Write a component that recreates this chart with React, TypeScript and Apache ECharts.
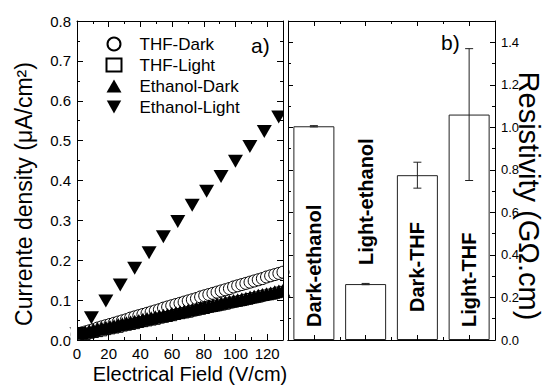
import React, { useEffect, useRef } from 'react';
import * as echarts from 'echarts';

// ---------- data (panel a) ----------
const fieldDense = [0, 2.6, 5.2, 7.8, 10.4, 13, 15.6, 18.2, 20.8, 23.4, 26, 28.6, 31.2, 33.8, 36.4, 39, 41.6, 44.2, 46.8, 49.4, 52, 54.6, 57.2, 59.8, 62.4, 65, 67.6, 70.2, 72.8, 75.4, 78, 80.6, 83.2, 85.8, 88.4, 91, 93.6, 96.2, 98.8, 101.4, 104, 106.6, 109.2, 111.8, 114.4, 117, 119.6, 122.2, 124.8, 127.4, 130];
const thfDark = [0.014, 0.017, 0.020, 0.023, 0.026, 0.030, 0.033, 0.036, 0.039, 0.042, 0.045, 0.048, 0.051, 0.055, 0.058, 0.061, 0.064, 0.067, 0.070, 0.073, 0.076, 0.080, 0.083, 0.086, 0.089, 0.092, 0.095, 0.098, 0.101, 0.104, 0.108, 0.111, 0.114, 0.117, 0.120, 0.123, 0.126, 0.129, 0.133, 0.136, 0.139, 0.142, 0.145, 0.148, 0.151, 0.154, 0.158, 0.161, 0.164, 0.167, 0.170];
const thfLight = [0.010, 0.012, 0.014, 0.017, 0.019, 0.021, 0.023, 0.026, 0.028, 0.030, 0.032, 0.035, 0.037, 0.039, 0.041, 0.044, 0.046, 0.048, 0.050, 0.052, 0.055, 0.057, 0.059, 0.061, 0.064, 0.066, 0.068, 0.070, 0.073, 0.075, 0.077, 0.079, 0.082, 0.084, 0.086, 0.088, 0.090, 0.093, 0.095, 0.097, 0.099, 0.102, 0.104, 0.106, 0.108, 0.111, 0.113, 0.115, 0.117, 0.120, 0.122];
const ethanolDark = [0.017, 0.019, 0.021, 0.023, 0.026, 0.028, 0.030, 0.032, 0.034, 0.036, 0.039, 0.041, 0.043, 0.045, 0.047, 0.049, 0.052, 0.054, 0.056, 0.058, 0.060, 0.062, 0.064, 0.067, 0.069, 0.071, 0.073, 0.075, 0.077, 0.080, 0.082, 0.084, 0.086, 0.088, 0.090, 0.093, 0.095, 0.097, 0.099, 0.101, 0.103, 0.105, 0.108, 0.110, 0.112, 0.114, 0.116, 0.118, 0.121, 0.123, 0.125];
const fieldEthanolLight = [0, 9.1, 18.2, 27.3, 36.4, 45.5, 54.5, 63.6, 72.7, 81.8, 90.9, 100, 109.1, 118.2, 127.3];
const ethanolLight = [0.016, 0.056, 0.098, 0.138, 0.180, 0.219, 0.259, 0.297, 0.338, 0.373, 0.410, 0.448, 0.485, 0.523, 0.559];
const seriesNames = ['THF-Dark', 'THF-Light', 'Ethanol-Dark', 'Ethanol-Light'];

// ---------- data (panel b) ----------
const samples = ['Dark-ethanol', 'Light-ethanol', 'Dark-THF', 'Light-THF'];
const resistivity = [1.005, 0.263, 0.775, 1.06];
const resistivityErr = [0.003, 0.003, 0.061, 0.31];
const labelLift = [13, 75, 28, 13];

// ---------- tick labels ----------
const fieldTicks = { min: 0, max: 130, interval: 20 };
const densityTicks = { min: 0, max: 0.8, interval: 0.1 };
const resTicks = { min: 0, max: 1.5, interval: 0.2 };

const FONT = '"Liberation Sans", Arial, Helvetica, sans-serif';
const BLACK = '#000';

const pairs = (xs: number[], ys: number[]) => xs.map((x, i) => [x, ys[i]]);

function mirrorValueAxis(extra: any) {
  return {
    type: 'value',
    axisLine: { show: true, onZero: false, lineStyle: { color: BLACK, width: 1 } },
    axisTick: { show: true, inside: true, length: 6, lineStyle: { color: BLACK } },
    minorTick: { show: true, splitNumber: 2, length: 3, lineStyle: { color: BLACK } },
    splitLine: { show: false },
    minorSplitLine: { show: false },
    axisLabel: { show: false },
    z: 10,
    ...extra,
  };
}

function catAxis(position: string, centers: boolean, extra: any = {}) {
  return {
    type: 'category',
    gridIndex: 1,
    position,
    data: samples,
    boundaryGap: true,
    axisLine: { show: true, onZero: false, lineStyle: { color: BLACK, width: 1 } },
    axisTick: { show: true, inside: true, alignWithLabel: centers, interval: 0, length: centers ? 5 : 3, lineStyle: { color: BLACK } },
    axisLabel: { show: false },
    splitLine: { show: false },
    z: 10,
    ...extra,
  };
}

const mask = (x: number, y: number, width: number, height: number) => ({
  type: 'rect', z: 50, silent: true,
  shape: { x, y, width, height },
  style: { fill: '#fff' },
});

const option: any = {
  animation: false,
  backgroundColor: '#fff',
  textStyle: { fontFamily: FONT },
  grid: [
    { left: 77, top: 21, width: 206, height: 319 },
    { left: 288, top: 21, width: 207, height: 319 },
  ],
  legend: {
    data: seriesNames,
    orient: 'vertical',
    left: 100.5,
    top: 30.5,
    itemWidth: 15,
    itemHeight: 13,
    itemGap: 4,
    selectedMode: false,
    textStyle: { fontSize: 17, color: BLACK, fontFamily: FONT, lineHeight: 17, padding: [0, 0, 0, 13] },
  },
  xAxis: [
    mirrorValueAxis({
      gridIndex: 0,
      position: 'bottom',
      ...fieldTicks,
      axisLabel: {
        show: true, fontSize: 15, color: BLACK, fontFamily: FONT, margin: 6,
        formatter: (v: number) => (v > 125 ? '' : String(Math.round(v))),
      },
    }),
    mirrorValueAxis({ gridIndex: 0, position: 'top', ...fieldTicks }),
    catAxis('bottom', true),
    catAxis('top', true),
    catAxis('bottom', false),
    catAxis('top', false),
  ],
  yAxis: [
    mirrorValueAxis({
      gridIndex: 0,
      position: 'left',
      ...densityTicks,
      axisLabel: {
        show: true, fontSize: 15, color: BLACK, fontFamily: FONT, margin: 6,
        formatter: (v: number) => v.toFixed(1),
      },
    }),
    mirrorValueAxis({ gridIndex: 0, position: 'right', ...densityTicks }),
    mirrorValueAxis({
      gridIndex: 1,
      position: 'right',
      ...resTicks,
      axisTick: { show: true, inside: true, length: 5, lineStyle: { color: BLACK } },
      axisLabel: {
        show: true, fontSize: 13, color: BLACK, fontFamily: FONT, margin: 6,
        formatter: (v: number) => (v > 1.45 ? '' : v.toFixed(1)),
      },
    }),
    mirrorValueAxis({
      gridIndex: 1,
      position: 'left',
      ...resTicks,
      axisTick: { show: true, inside: true, length: 5, lineStyle: { color: BLACK } },
    }),
  ],
  series: [
    {
      name: 'THF-Dark', type: 'scatter', xAxisIndex: 0, yAxisIndex: 0, clip: true,
      symbol: 'circle', symbolSize: 12,
      itemStyle: { color: '#fff', borderColor: BLACK, borderWidth: 1, opacity: 1 },
      data: pairs(fieldDense, thfDark),
    },
    {
      name: 'THF-Light', type: 'scatter', xAxisIndex: 0, yAxisIndex: 0, clip: true,
      symbol: 'rect', symbolSize: 10,
      itemStyle: { color: '#fff', borderColor: BLACK, borderWidth: 1, opacity: 1 },
      data: pairs(fieldDense, thfLight),
    },
    {
      name: 'Ethanol-Dark', type: 'scatter', xAxisIndex: 0, yAxisIndex: 0, clip: true,
      symbol: 'triangle', symbolSize: [15, 13],
      itemStyle: { color: BLACK, opacity: 1 },
      data: pairs(fieldDense, ethanolDark),
    },
    {
      name: 'Ethanol-Light', type: 'scatter', xAxisIndex: 0, yAxisIndex: 0, clip: true,
      symbol: 'path://M0,0 L10,0 L5,9 Z', symbolSize: [15, 13],
      itemStyle: { color: BLACK, opacity: 1 },
      data: pairs(fieldEthanolLight, ethanolLight),
    },
    {
      name: 'Resistivity', type: 'bar', xAxisIndex: 2, yAxisIndex: 2,
      barWidth: 41,
      itemStyle: { color: '#fff', borderColor: '#222', borderWidth: 1 },
      label: {
        show: true, position: 'insideBottom', rotate: 90, align: 'left', verticalAlign: 'middle',
        formatter: '{b}', fontSize: 20, fontWeight: 'bold', color: BLACK, fontFamily: FONT,
      },
      data: resistivity.map((v, i) => ({ value: v, label: { distance: labelLift[i] } })),
    },
    {
      name: 'Error', type: 'custom', xAxisIndex: 2, yAxisIndex: 2,
      data: resistivity.map((v, i) => [i, v - resistivityErr[i], v + resistivityErr[i]]),
      renderItem: (params: any, api: any) => {
        const i = api.value(0);
        const lo = api.coord([i, api.value(1)]);
        const hi = api.coord([i, api.value(2)]);
        const hw = 4;
        const st = { stroke: '#222', lineWidth: 1 };
        return {
          type: 'group',
          children: [
            { type: 'line', shape: { x1: lo[0], y1: lo[1], x2: hi[0], y2: hi[1] }, style: st },
            { type: 'line', shape: { x1: hi[0] - hw, y1: hi[1], x2: hi[0] + hw, y2: hi[1] }, style: st },
            { type: 'line', shape: { x1: lo[0] - hw, y1: lo[1], x2: lo[0] + hw, y2: lo[1] }, style: st },
          ],
        };
      },
      z: 5,
    },
  ],
  graphic: [
    // white masks so that symbols do not spill past the frames
    mask(70.5, 318, 6.5, 28),
    mask(284, 21, 4, 319),
    mask(77, 341, 206, 4),
    {
      type: 'text', x: 24, y: 194, rotation: Math.PI / 2,
      style: { text: 'Currente density (μA/cm²)', fontSize: 23, fontFamily: FONT, fill: BLACK, align: 'center', verticalAlign: 'middle' },
    },
    {
      type: 'text', x: 190, y: 374,
      style: { text: 'Electrical Field (V/cm)', fontSize: 20, fontFamily: FONT, fill: BLACK, align: 'center', verticalAlign: 'middle' },
    },
    {
      type: 'text', x: 529, y: 196, rotation: -Math.PI / 2,
      style: { text: 'Resistivity (GΩ.cm)', fontSize: 29, fontFamily: FONT, fill: BLACK, align: 'center', verticalAlign: 'middle' },
    },
    {
      type: 'text', x: 251, y: 45,
      style: { text: 'a)', fontSize: 21, fontFamily: FONT, fill: BLACK, align: 'left', verticalAlign: 'middle' },
    },
    {
      type: 'text', x: 441, y: 42,
      style: { text: 'b)', fontSize: 21, fontFamily: FONT, fill: BLACK, align: 'left', verticalAlign: 'middle' },
    },
  ],
};

export default function App() {
  const ref = useRef<HTMLDivElement>(null);
  useEffect(() => {
    if (!ref.current) return;
    const chart = echarts.init(ref.current, null, { renderer: 'svg' });
    chart.setOption(option);
    return () => chart.dispose();
  }, []);
  return (
    <div
      ref={ref}
      style={{ position: 'absolute', left: 0, top: 0, width: 546, height: 385, background: '#fff' }}
    />
  );
}
